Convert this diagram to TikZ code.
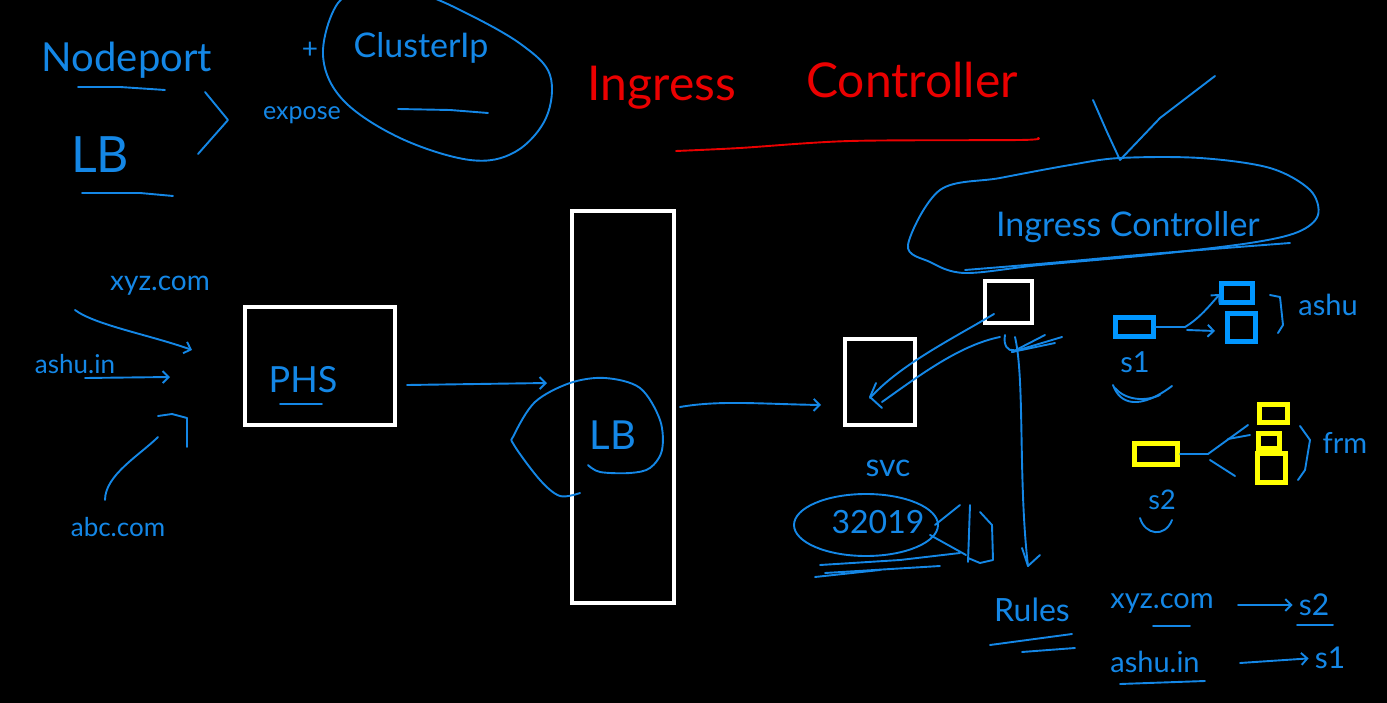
\documentclass[tikz,border=0pt]{standalone}
\usepackage{fontspec}
\setmainfont{Lato}
\usetikzlibrary{arrows.meta}
\definecolor{hblue}{RGB}{20,135,230}
\definecolor{bblue}{RGB}{0,150,255}
\definecolor{hred}{RGB}{235,0,0}
\definecolor{hyel}{RGB}{255,255,0}
\newcommand\hsz[1]{\fontsize{#1}{#1}\selectfont}
\tikzset{
  hand/.style={text=hblue, font=\hsz{#1}, inner sep=0pt},
  redhand/.style={text=hred, font=\hsz{#1}, inner sep=0pt},
  pen/.style={draw=hblue, line width=1.9pt, line cap=round, line join=round},
  redpen/.style={draw=hred, line width=1.9pt, line cap=round, line join=round},
  harr/.style={-{Straight Barb[length=6pt,width=12pt]}},
  wbox/.style={draw=white, line width=4pt},
  bbox/.style={draw=bblue, line width=5pt},
  ybox/.style={draw=hyel, line width=5pt}
}
\begin{document}
\begin{tikzpicture}[x=1pt,y=-1pt]
\fill[black] (0,0) rectangle (1387,703);
\useasboundingbox (0,0) rectangle (1387,703);

% ---------- top left ----------
\node[hand=40] (nodeport) at (127,60) {Nodeport};
\draw[pen] (78,87) -- (120,87) -- (165,90);
\node[hand=50] (lbtxt) at (100,155) {LB};
\draw[pen] (82,193) -- (140,193) -- (173,196);
\draw[pen] (205,92) -- (228,120) -- (198,154);
\node[hand=28] (plus) at (310,50) {+};
\node[hand=25] (expose) at (302,115) {expose};
\draw[pen] plot[smooth cycle, tension=0.6] coordinates {(338,3) (323,55) (343,100) (400,138) (470,160) (515,152) (546,118) (550,75) (522,45) (470,15) (420,-6) (370,-8)};
\node[hand=34] (clusterip) at (421,48) {ClusterIp};
\draw[pen] (398,109) -- (450,110) -- (488,113);

% ---------- red title ----------
\node[redhand=48] (ingress) at (662,88) {Ingress};
\node[redhand=48] (controller) at (912,80) {Controller};
\draw[redpen] plot[smooth, tension=0.5] coordinates {(676,151) (740,148) (850,141) (1020,140) (1038,138)};

% ---------- ingress controller blob ----------
\draw[pen] plot[smooth cycle, tension=0.55] coordinates {(908,245) (940,190) (1000,178) (1070,165) (1120,158) (1200,158) (1270,168) (1310,190) (1318,215) (1298,232) (1250,243) (1150,255) (1040,265) (965,273) (930,262)};
\node[hand=34] (ictext) at (1128,227) {Ingress Controller};
\draw[pen] plot[smooth] coordinates {(965,270) (1050,263) (1150,254) (1290,243)};
\draw[pen] (1093,100) -- (1107,132) -- (1120,160) -- (1160,118) -- (1215,76);

% ---------- left domains ----------
\node[hand=28] (xyzL) at (160,286) {xyz.com};
\node[hand=26] (ashuL) at (75,364) {ashu.in};
\node[hand=26] (abcL) at (118,527) {abc.com};
\coordinate (a1s) at (75,310);
\coordinate (a1e) at (192,350);
\coordinate (a2s) at (85,378);
\coordinate (a2e) at (170,377);
\draw[pen,harr] (a1s) .. controls (95,325) and (150,335) .. (a1e);
\draw[pen,harr] (a2s) -- (a2e);
\draw[pen] (105,500) .. controls (105,475) and (140,455) .. (158,437);
\draw[pen] (158,416) -- (172,414) -- (187,418) -- (187,447);

% ---------- PHS / LB ----------
\node[wbox, minimum width=150pt, minimum height=118pt] (phs) at (320,366) {};
\node[hand=36] (phstxt) at (303,380) {PHS};
\draw[pen] (280,404) -- (322,404);
\node[wbox, minimum width=102pt, minimum height=392pt] (lb) at (623,407) {};
\coordinate (p1) at (407,385);
\coordinate (p2) at (547,383);
\draw[pen,harr] (p1) -- (p2);
\draw[pen] plot[smooth, tension=0.55] coordinates {(580,493) (560,496) (540,480) (514,445) (514,435) (535,402) (570,383) (605,378) (640,388) (660,420) (662,450) (650,468) (630,473) (600,472) (588,465)};
\node[hand=40] (lbin) at (613,435) {LB};
\coordinate (l1) at (680,407);
\coordinate (l2) at (821,405);
\draw[pen,harr] (l1) .. controls (720,400) and (760,404) .. (l2);

% ---------- svc / ingress box ----------
\node[wbox, minimum width=70pt, minimum height=85pt] (svc) at (880,382) {};
\node[wbox, minimum width=47pt, minimum height=42pt] (icbox) at (1008,302) {};
\coordinate (s1a) at (994,314);
\coordinate (s1b) at (870,398);
\draw[pen] (s1a) .. controls (950,340) and (900,365) .. (s1b);
\draw[pen] (876,383) -- (870,397) -- (882,408);
\draw[pen] (1000,337) .. controls (960,345) and (920,375) .. (882,402);
\coordinate (d1) at (1015,337);
\coordinate (d2) at (1028,566);
\draw[pen] (d1) .. controls (1025,380) and (1018,480) .. (d2);
\draw[pen] (1022,548) -- (1028,566) -- (1040,555);
\draw[pen] (1012,352) -- (1045,335);
\draw[pen] (1012,352) -- (1062,337);
\draw[pen] (1012,352) -- (1055,343);
\draw[pen] (1005,335) .. controls (1003,345) and (1008,352) .. (1014,350);

\node[hand=32] (svctxt) at (888,468) {svc};
\draw[pen] (866,525) ellipse [x radius=72, y radius=31];
\node[hand=32] (port) at (878,522) {32019};
\draw[pen] (820,565) -- (900,560) -- (960,553);
\draw[pen] (825,573) -- (940,566);
\draw[pen] (815,577) -- (880,570);
\draw[pen] (935,525) -- (960,505);
\draw[pen] (930,535) -- (966,555);
\draw[pen] (970,505) -- (968,562);
\draw[pen] (980,512) -- (992,525) -- (993,560) -- (980,563) -- (968,558);

% ---------- rules ----------
\node[hand=32] (rules) at (1032,610) {Rules};
\draw[pen] (990,645) -- (1072,634);
\draw[pen] (1022,652) -- (1075,648);
\node[hand=29] (rxyz) at (1162,604) {xyz.com};
\draw[pen] (1153,626) -- (1190,626);
\node[hand=30] (rs2) at (1314,605) {s2};
\draw[pen] (1297,625) -- (1333,625);
\draw[pen,harr,shorten >=6pt] (1238,605) -- (rs2.west);
\node[hand=29] (rashu) at (1155,662) {ashu.in};
\draw[pen] (1120,684) -- (1205,681);
\node[hand=30] (rs1) at (1330,658) {s1};
\draw[pen,harr,shorten >=6pt] (1240,663) -- (rs1.west);

% ---------- s1 group ----------
\node[bbox, minimum width=38pt, minimum height=19pt] (s1box) at (1134,327) {};
\node[bbox, minimum width=31pt, minimum height=19pt] (ab1) at (1237,293) {};
\node[bbox, minimum width=28pt, minimum height=28pt] (ab2) at (1241,328) {};
\coordinate (sj) at (1185,327);
\draw[pen] (s1box.east) -- (sj);
\draw[pen,harr] (sj) .. controls (1200,318) and (1210,305) .. (1220,294);
\draw[pen,harr] (1187,330) -- (1215,331);
\draw[pen] (1270,295) -- (1280,297) -- (1283,325) -- (1278,333);
\node[hand=29] (ashu) at (1328,305) {ashu};
\node[hand=29] (s1lbl) at (1135,362) {s1};
\draw[pen] (1113,385) .. controls (1120,405) and (1140,410) .. (1172,386);
\draw[pen] (1115,388) .. controls (1125,400) and (1145,402) .. (1160,395);

% ---------- s2 group ----------
\node[ybox, minimum width=43pt, minimum height=21pt] (s2box) at (1156,454) {};
\node[ybox, minimum width=28pt, minimum height=18pt] (yb1) at (1273,413) {};
\node[ybox, minimum width=21pt, minimum height=15pt] (yb2) at (1269,441) {};
\node[ybox, minimum width=28pt, minimum height=29pt] (yb3) at (1271,468) {};
\coordinate (yj) at (1208,454);
\draw[pen] (s2box.east) -- (yj) -- (1248,425);
\draw[pen] (1228,439) -- (1250,435);
\draw[pen] (1210,460) -- (1235,476);
\draw[pen] (1300,426) -- (1310,440) -- (1305,470) -- (1298,480);
\node[hand=29] (frm) at (1345,443) {frm};
\node[hand=27] (s2lbl) at (1162,500) {s2};
\draw[pen] (1140,518) .. controls (1145,535) and (1165,538) .. (1172,520);
\end{tikzpicture}
\end{document}
